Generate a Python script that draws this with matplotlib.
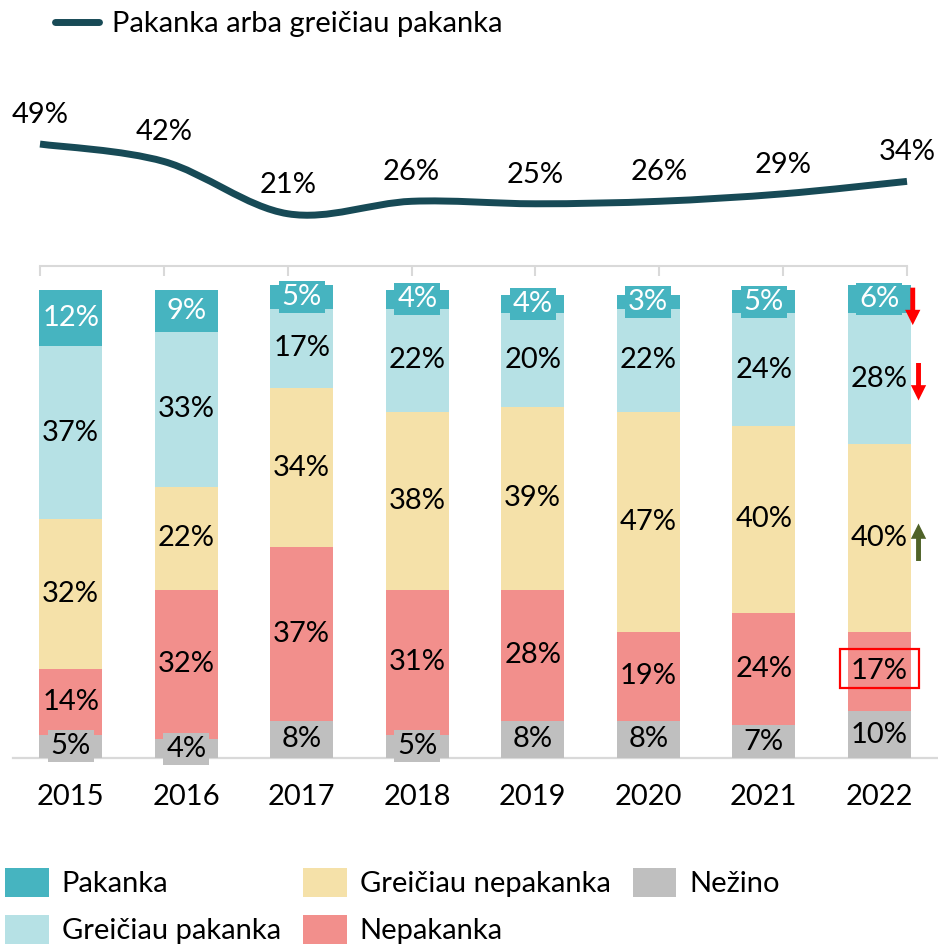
import matplotlib
matplotlib.use("Agg")
import matplotlib.pyplot as plt
import numpy as np
from matplotlib.path import Path
from matplotlib.patches import PathPatch, Rectangle, Patch
from matplotlib.lines import Line2D

plt.rcParams['font.family'] = ['Lato', 'DejaVu Sans']

# ---------------- data ----------------
years = ['2015', '2016', '2017', '2018', '2019', '2020', '2021', '2022']
nezino = [5, 4, 8, 5, 8, 8, 7, 10]
nepakanka = [14, 32, 37, 31, 28, 19, 24, 17]
greiciau_nepakanka = [32, 22, 34, 38, 39, 47, 40, 40]
greiciau_pakanka = [37, 33, 17, 22, 20, 22, 24, 28]
pakanka = [12, 9, 5, 4, 4, 3, 5, 6]
line_values = [49, 42, 21, 26, 25, 26, 29, 34]

series_names = ['Nežino', 'Nepakanka', 'Greičiau nepakanka', 'Greičiau pakanka', 'Pakanka']
series_values = [nezino, nepakanka, greiciau_nepakanka, greiciau_pakanka, pakanka]
series_colors = ['#BFBFBF', '#F28F8C', '#F5E1A9', '#B6E1E5', '#46B4C0']
label_colors = ['black', 'black', 'black', 'black', 'white']
label_boxed = [True, False, False, False, True]
line_name = 'Pakanka arba greičiau pakanka'
line_color = '#174A56'

FS = 21

W, H = 938, 944
fig = plt.figure(figsize=(W / 100, H / 100), dpi=100)


def rect(x0, ytop, x1, ybot):
    return [x0 / W, 1 - ybot / H, (x1 - x0) / W, (ybot - ytop) / H]


# ---------------- bar axes ----------------
bax = fig.add_axes(rect(13, 290, 937, 758))
bax.set_facecolor('none')
x = np.arange(len(years))
bottom = np.zeros(len(years))
bar_w = 0.545
seg_centers = []
for name, vals, col, lcol, boxed in zip(series_names, series_values, series_colors,
                                        label_colors, label_boxed):
    vals = np.array(vals, dtype=float)
    bax.bar(x, vals, bar_w, bottom=bottom, color=col, clip_on=False, zorder=2, label=name)
    centers = bottom + vals / 2
    seg_centers.append(centers)
    for xi, c, v in zip(x, centers, vals):
        bb = dict(boxstyle='square,pad=0.1', fc=col, ec='none') if boxed else None
        bax.text(xi, c, f"{int(v)}%", ha='center', va='center', fontsize=FS, color=lcol,
                 zorder=4, clip_on=False, bbox=bb)
    bottom = bottom + vals

bax.set_xlim(-0.5, len(years) - 0.5)
bax.set_ylim(0, 100)
bax.set_xticks(x)
bax.set_xticklabels(years, fontsize=FS)
bax.tick_params(axis='x', length=0, pad=19)
bax.set_yticks([])
for s in ['top', 'left', 'right']:
    bax.spines[s].set_visible(False)
bax.spines['bottom'].set_color('#D9D9D9')
bax.spines['bottom'].set_linewidth(1.6)
bax.spines['bottom'].set_zorder(1)

# annotations on 2022
i = len(years) - 1
arrow_specs = [
    (seg_centers[4][i] - 1.5, 0.29, 'down', '#FF0000'),
    (seg_centers[3][i] - 0.6, 0.34, 'down', '#FF0000'),
    (seg_centers[2][i] - 0.9, 0.34, 'up', '#4F6228'),
]
for c, dx, direction, col in arrow_specs:
    if direction == 'down':
        tail, tip = c + 4.0, c - 4.0
    else:
        tail, tip = c - 4.0, c + 4.0
    bax.annotate('', xy=(i + dx, tip), xytext=(i + dx, tail), zorder=5,
                 annotation_clip=False,
                 arrowprops=dict(arrowstyle='simple,head_width=1.0,head_length=1.0,tail_width=0.32',
                                 mutation_scale=11, fc=col, ec='none', lw=0,
                                 shrinkA=0, shrinkB=0))
rc = seg_centers[1][i] + 0.6
bax.add_patch(Rectangle((i - 0.34, rc - 4.15), 0.68, 8.3, fill=False, ec='#FF0000',
                        lw=1.6, zorder=6, clip_on=False))

# ---------------- line axes ----------------
lax = fig.add_axes(rect(40, 100, 907, 266))
lax.set_facecolor('none')
lx = np.arange(len(line_values), dtype=float)
ly = np.array(line_values, dtype=float)
# smooth (Catmull-Rom style) cubic Bezier path through the data points
P = np.column_stack([lx, ly])
Pe = np.vstack([P[0], P, P[-1]])
verts = [tuple(P[0])]
codes = [Path.MOVETO]
for k in range(len(P) - 1):
    p0, p1, p2, p3 = Pe[k], Pe[k + 1], Pe[k + 2], Pe[k + 3]
    c1 = p1 + (p2 - p0) / 6.0
    c2 = p2 - (p3 - p1) / 6.0
    verts += [tuple(c1), tuple(c2), tuple(p2)]
    codes += [Path.CURVE4] * 3
lax.add_patch(PathPatch(Path(verts, codes), fill=False, ec=line_color, lw=5,
                        capstyle='butt', joinstyle='round', zorder=3, clip_on=False))
for xi, v in zip(lx, ly):
    lax.annotate(f"{int(v)}%", (xi, v), xytext=(0, 21), textcoords='offset points',
                 ha='center', va='center', fontsize=FS, color='black', annotation_clip=False)
lax.set_xlim(0, len(line_values) - 1)
lax.set_ylim(0, 66.7)
lax.set_xticks(lx)
lax.set_xticklabels([])
lax.set_yticks([])
lax.tick_params(axis='x', direction='out', length=7, width=1.5, color='#D9D9D9')
for s in ['top', 'left', 'right']:
    lax.spines[s].set_visible(False)
lax.spines['bottom'].set_color('#D9D9D9')
lax.spines['bottom'].set_linewidth(1.5)

# ---------------- legends ----------------
fig.legend([Line2D([0], [0], color=line_color, lw=5, solid_capstyle='round')], [line_name],
           loc='center left', bbox_to_anchor=(55 / W, 1 - 24 / H), frameon=False,
           fontsize=FS, handlelength=1.5, handletextpad=0.45, borderpad=0, borderaxespad=0)

order = [4, 3, 2, 1, 0]
handles = [Patch(fc=series_colors[k], ec='none') for k in order]
labels = [series_names[k] for k in order]
fig.legend(handles, labels, loc='center left', bbox_to_anchor=(5 / W, 1 - 906 / H), ncol=3,
           frameon=False, fontsize=FS, handlelength=1.5, handleheight=1.16,
           handletextpad=0.45, columnspacing=0.75, labelspacing=0.62, borderpad=0, borderaxespad=0)

fig.savefig('out.png', dpi=100)
